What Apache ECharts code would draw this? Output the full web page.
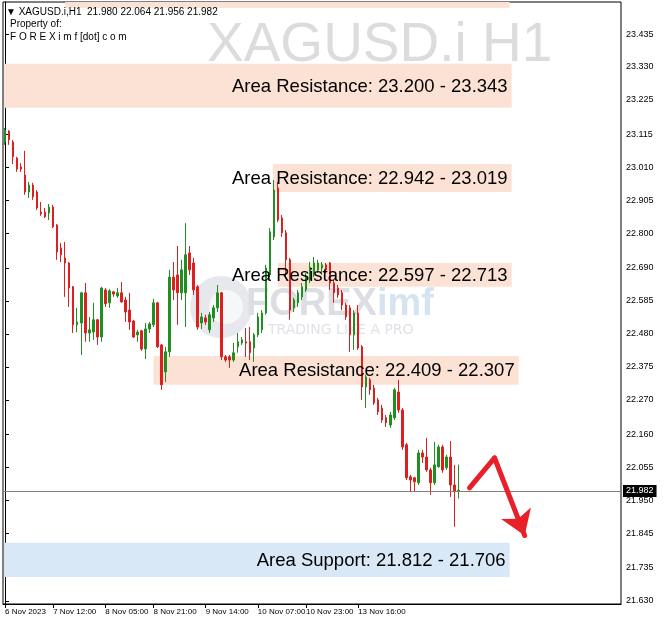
<!DOCTYPE html>
<html><head><meta charset="utf-8">
<script src="https://cdn.jsdelivr.net/npm/echarts@6/dist/echarts.min.js"></script>
<style>html,body{margin:0;padding:0;background:#fff}#c{width:664px;height:627px}</style>
</head><body><div id="c"></div>
<script>
// [open, close, low, high]
const ohlc = [
[23.091,23.129,23.082,23.136],[23.126,23.098,23.082,23.129],[23.091,23.044,23.021,23.098],[23.040,23.005,22.996,23.044],
[23.012,23.005,22.996,23.024],[22.986,22.932,22.923,23.063],[22.932,22.954,22.913,22.964],[22.954,22.916,22.907,22.961],
[22.932,22.881,22.875,22.938],[22.868,22.862,22.856,22.900],[22.868,22.853,22.849,22.881],[22.865,22.884,22.843,22.894],
[22.884,22.821,22.817,22.891],[22.827,22.741,22.716,22.830],[22.754,22.732,22.709,22.770],[22.722,22.706,22.598,22.773],
[22.706,22.626,22.566,22.709],[22.630,22.509,22.483,22.633],[22.509,22.518,22.486,22.563],[22.515,22.611,22.413,22.614],
[22.611,22.483,22.455,22.642],[22.483,22.493,22.455,22.534],[22.486,22.525,22.461,22.579],[22.525,22.470,22.445,22.528],
[22.470,22.626,22.455,22.630],[22.620,22.576,22.566,22.626],[22.579,22.617,22.563,22.623],[22.614,22.607,22.598,22.617],
[22.601,22.611,22.595,22.626],[22.611,22.582,22.579,22.645],[22.588,22.550,22.518,22.598],[22.556,22.518,22.493,22.611],
[22.521,22.470,22.467,22.525],[22.477,22.486,22.455,22.493],[22.490,22.432,22.426,22.493],[22.432,22.496,22.400,22.515],
[22.496,22.512,22.483,22.518],[22.509,22.579,22.502,22.592],[22.579,22.439,22.435,22.582],[22.445,22.318,22.302,22.448],
[22.359,22.423,22.327,22.439],[22.423,22.661,22.407,22.684],[22.661,22.620,22.588,22.709],[22.668,22.611,22.509,22.760],
[22.611,22.684,22.588,22.716],[22.611,22.732,22.502,22.833],[22.738,22.684,22.668,22.760],[22.706,22.620,22.604,22.722],
[22.630,22.502,22.493,22.636],[22.515,22.534,22.496,22.547],[22.531,22.518,22.509,22.541],[22.493,22.541,22.483,22.550],
[22.531,22.563,22.518,22.572],[22.563,22.611,22.550,22.636],[22.611,22.407,22.397,22.614],[22.407,22.397,22.391,22.413],
[22.407,22.397,22.372,22.413],[22.397,22.420,22.391,22.451],[22.439,22.455,22.420,22.483],[22.451,22.461,22.445,22.470],
[22.455,22.451,22.407,22.499],[22.455,22.420,22.397,22.502],[22.435,22.477,22.391,22.483],[22.477,22.534,22.470,22.547],
[22.493,22.547,22.483,22.556],[22.547,22.690,22.541,22.700],[22.668,22.805,22.661,22.817],[22.789,22.938,22.779,22.970],
[22.945,22.843,22.836,22.964],[22.849,22.802,22.789,22.859],[22.802,22.716,22.661,22.811],[22.716,22.556,22.525,22.722],
[22.563,22.588,22.550,22.595],[22.579,22.611,22.566,22.620],[22.598,22.630,22.588,22.642],[22.620,22.661,22.614,22.674],
[22.652,22.693,22.642,22.709],[22.674,22.706,22.661,22.725],[22.684,22.706,22.674,22.716],[22.690,22.700,22.668,22.709],
[22.700,22.684,22.674,22.706],[22.706,22.642,22.620,22.709],[22.642,22.611,22.579,22.652],[22.626,22.604,22.595,22.636],
[22.611,22.572,22.556,22.620],[22.572,22.534,22.525,22.579],[22.563,22.477,22.423,22.572],[22.477,22.547,22.429,22.556],
[22.547,22.435,22.429,22.572],[22.439,22.311,22.270,22.445],[22.311,22.343,22.244,22.350],[22.334,22.302,22.286,22.340],
[22.308,22.260,22.254,22.318],[22.270,22.232,22.222,22.276],[22.244,22.206,22.197,22.254],[22.213,22.197,22.184,22.222],
[22.190,22.222,22.181,22.232],[22.213,22.302,22.206,22.308],[22.295,22.238,22.229,22.334],[22.238,22.120,22.111,22.244],
[22.127,22.022,22.015,22.133],[22.025,22.015,21.977,22.031],[22.022,22.009,21.977,22.025],[22.006,22.101,21.999,22.111],
[22.101,22.088,22.069,22.111],[22.088,22.047,22.041,22.149],[22.047,22.006,21.968,22.054],[22.006,22.063,21.999,22.136],
[22.057,22.120,22.054,22.127],[22.120,22.047,22.038,22.127],[22.054,22.088,22.047,22.095],[22.088,21.999,21.961,22.139],
[21.999,21.980,21.866,22.063],[21.980,21.982,21.956,22.064]
];
const slotCount = 154;
const xTickIdx = [0, 12, 25, 37, 50, 63, 75, 88];
const xTickLabels = ['6 Nov 2023','7 Nov 12:00','8 Nov 05:00','8 Nov 21:00','9 Nov 14:00','10 Nov 07:00','10 Nov 23:00','13 Nov 16:00'];
const yTicks = [21.630,21.735,21.845,21.950,22.055,22.160,22.270,22.375,22.480,22.585,22.690,22.800,22.905,23.010,23.115,23.225,23.330,23.435];
const lastPrice = 21.982;
const infoLine = '\u25BC XAGUSD.i,H1  21.980 22.064 21.956 21.982';

const zoneStart = [15, -0.25, 66.75, 68, 37, -0.25];
const zoneEnd   = [125.75, 126.25, 126.25, 126.25, 128, 125.75];
const zoneLow   = [23.518, 23.200, 22.932, 22.630, 22.318, 21.706];
const zoneHigh  = [23.650, 23.340, 23.021, 22.706, 22.410, 21.815];
const zoneText  = ['', 'Area Resistance: 23.200 - 23.343', 'Area Resistance: 22.942 - 23.019',
                   'Area Resistance: 22.597 - 22.713', 'Area Resistance: 22.409 - 22.307', 'Area Support: 21.812 - 21.706'];
const zoneKind  = ['R','R','R','R','R','S'];

const arrowUp   = [[115.75, 21.990], [122, 22.085]];
const arrowDown = [[122, 22.085], [129.5, 21.838]];

const slots = Array.from({length: slotCount}, (_, i) => String(i));
const candleData = slots.map((s, i) => i < ohlc.length ? ohlc[i] : '-');
const zoneData = zoneStart.map((s, i) => [s, zoneEnd[i], zoneLow[i], zoneHigh[i], i]);

const chart = echarts.init(document.getElementById('c'), null, {renderer: 'canvas'});
const small = '"Liberation Sans", Arial, sans-serif';
chart.setOption({
  animation: false,
  backgroundColor: '#fff',
  grid: {left: 3, right: 43, top: 2, bottom: 23, show: true, borderColor: '#000', borderWidth: 1, containLabel: false},
  xAxis: [{
    type: 'category', data: slots, boundaryGap: true, position: 'bottom',
    axisLine: {show: true, lineStyle: {color: '#000'}},
    axisTick: {show: true, alignWithLabel: true, length: 4, lineStyle: {color: '#000'},
      interval: (i) => xTickIdx.includes(i)},
    axisLabel: {show: true, interval: (i) => xTickIdx.includes(i), align: 'left', margin: 4, hideOverlap: false,
      color: '#000', fontSize: 8, fontFamily: small,
      formatter: (v, i) => { const k = xTickIdx.indexOf(i); return k >= 0 ? xTickLabels[k] : ''; }},
    splitLine: {show: false}
  }, {
    type: 'value', min: -0.5, max: slotCount - 0.5, show: false
  }],
  yAxis: {
    type: 'value', position: 'right', min: 21.620, max: 23.537,
    splitLine: {show: false},
    axisLine: {show: true, lineStyle: {color: '#000'}},
    axisTick: {show: true, length: 4, customValues: yTicks, lineStyle: {color: '#000'}},
    axisLabel: {customValues: yTicks, formatter: (v) => v.toFixed(3), color: '#000', fontSize: 9, fontFamily: small, margin: 5}
  },
  graphic: [
    {type: 'text', left: 207, top: 18, z: -10, style: {text: 'XAGUSD.i H1', fill: '#dcdcdc', font: '55px "Liberation Sans", Arial, sans-serif'}},
    {type: 'circle', shape: {cx: 221, cy: 307, r: 31}, style: {fill: '#e6e8ed'}, z: -10},
    {type: 'circle', shape: {cx: 226, cy: 307, r: 17}, style: {fill: '#f6f7f9'}, z: -9},
    {type: 'text', left: 246, top: 286, z: -10, style: {text: 'FOREX', fill: '#dcdee4', font: 'bold 38px "Liberation Sans", Arial, sans-serif'}},
    {type: 'text', left: 377, top: 286, z: -10, style: {text: 'imf', fill: '#d6e4f2', font: 'bold 38px "Liberation Sans", Arial, sans-serif'}},
    {type: 'text', left: 268, top: 323, z: -10, style: {text: 'TRADING LIKE A PRO', fill: '#e0e2e7', font: '14px "DejaVu Sans", sans-serif'}},
    {type: 'text', left: 6, top: 7, z: 10, style: {text: infoLine, fill: '#000', font: '10px "Liberation Sans", "DejaVu Sans", sans-serif'}},
    {type: 'text', left: 10, top: 19, z: 10, style: {text: 'Property of:', fill: '#000', font: '10px "Liberation Sans", sans-serif'}},
    {type: 'text', left: 10, top: 32, z: 10, style: {text: 'F O R E X i m f [dot] c o m', fill: '#000', font: '10px "Liberation Sans", sans-serif'}}
  ],
  series: [
    {
      type: 'custom', xAxisIndex: 1, yAxisIndex: 0, z: 1, silent: true, clip: true,
      data: zoneData,
      renderItem: (params, api) => {
        const a = api.coord([api.value(0), api.value(3)]);
        const b = api.coord([api.value(1), api.value(2)]);
        const top = Math.max(a[1], params.coordSys.y);
        const kind = zoneKind[api.value(4)];
        return {type: 'rect', shape: {x: a[0], y: top, width: b[0] - a[0], height: b[1] - top},
          style: {fill: kind === 'S' ? '#d8e8f6' : '#fbe2d5'}};
      }
    },
    {
      type: 'candlestick', xAxisIndex: 0, yAxisIndex: 0, z: 3, barWidth: 2,
      data: candleData,
      itemStyle: {color: '#1f8f1f', color0: '#dc1f1f', borderColor: '#1f8f1f', borderColor0: '#dc1f1f', borderWidth: 1},
      markLine: {
        silent: true, symbol: ['none', 'none'], animation: false,
        data: [{yAxis: lastPrice}],
        lineStyle: {color: '#808080', width: 1, type: 'solid'},
        label: {show: true, position: 'end', distance: 2, formatter: lastPrice.toFixed(3),
          color: '#fff', backgroundColor: '#000', padding: [2, 3, 1, 3], fontSize: 9, fontFamily: small}
      }
    },
    {
      type: 'custom', xAxisIndex: 1, yAxisIndex: 0, z: 5, silent: true,
      data: zoneData,
      renderItem: (params, api) => {
        const a = api.coord([api.value(0), api.value(3)]);
        const b = api.coord([api.value(1), api.value(2)]);
        const txt = zoneText[api.value(4)];
        if (!txt) return null;
        return {type: 'text', x: b[0] - 4, y: (a[1] + b[1]) / 2 + 1,
          style: {text: txt, fill: '#000', font: '18.5px "Liberation Sans", Arial, sans-serif', align: 'right', verticalAlign: 'middle'}};
      }
    },
    {
      type: 'lines', coordinateSystem: 'cartesian2d', xAxisIndex: 1, yAxisIndex: 0, z: 6, silent: true,
      data: [{coords: arrowUp}], symbol: ['none', 'none'],
      lineStyle: {color: '#e8202a', width: 5, opacity: 1, cap: 'round'}
    },
    {
      type: 'lines', coordinateSystem: 'cartesian2d', xAxisIndex: 1, yAxisIndex: 0, z: 6, silent: true,
      data: [{coords: arrowDown}], symbol: ['none', 'arrow'], symbolSize: 24,
      lineStyle: {color: '#e8202a', width: 5, opacity: 1, cap: 'round'}
    }
  ]
});
</script></body></html>
